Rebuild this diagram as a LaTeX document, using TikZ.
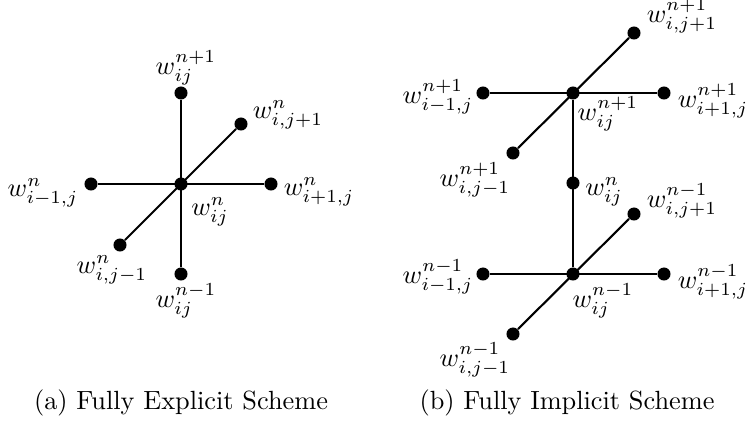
\documentclass[tikz,border=0pt]{standalone}
\begin{document}
\begin{tikzpicture}[x=0.38pt,y=-0.38pt,
  dot/.style={circle,fill=black,inner sep=0pt,minimum size=4.95pt},
  edge/.style={line width=0.8pt},
  lab/.style={inner sep=0pt}]
\useasboundingbox (0,0) rectangle (750,426);
% (a)
\node[dot] (c) at (181,184) {};
\node[dot] (t) at (181,93) {};
\node[dot] (b) at (181,274) {};
\node[dot] (l) at (91,184) {};
\node[dot] (r) at (271,184) {};
\node[dot] (ur) at (241,124) {};
\node[dot] (ll) at (120,245) {};
\draw[edge] (t) -- (b);
\draw[edge] (l) -- (r);
\draw[edge] (ll) -- (ur);
\node[lab] (lt) at (186,68) {$w_{ij}^{n+1}$};
\node[lab] (lur) at (288,115) {$w_{i,j+1}^{n}$};
\node[lab] (lr) at (319,192) {$w_{i+1,j}^{n}$};
\node[lab] (ll2) at (43,193) {$w_{i-1,j}^{n}$};
\node[lab] (lc) at (210,212) {$w_{ij}^{n}$};
\node[lab] (lll) at (112,270) {$w_{i,j-1}^{n}$};
\node[lab] (lb) at (186,301) {$w_{ij}^{n-1}$};
% (b)
\node[dot] (c1) at (573,93) {};
\node[dot] (l1) at (483,93) {};
\node[dot] (r1) at (664,93) {};
\node[dot] (ur1) at (634,33) {};
\node[dot] (ll1) at (513,153) {};
\node[dot] (m) at (573,183) {};
\node[dot] (c0) at (573,274) {};
\node[dot] (l0) at (483,274) {};
\node[dot] (r0) at (664,274) {};
\node[dot] (ur0) at (634,214) {};
\node[dot] (ll0) at (513,334) {};
\draw[edge] (l1) -- (r1);
\draw[edge] (ll1) -- (ur1);
\draw[edge] (c1) -- (c0);
\draw[edge] (l0) -- (r0);
\draw[edge] (ll0) -- (ur0);
\node[lab] (mur1) at (682,16) {$w_{i,j+1}^{n+1}$};
\node[lab] (ml1) at (438,97) {$w_{i-1,j}^{n+1}$};
\node[lab] (mr1) at (713,101) {$w_{i+1,j}^{n+1}$};
\node[lab] (mc1) at (608,114) {$w_{ij}^{n+1}$};
\node[lab] (mll1) at (475,180) {$w_{i,j-1}^{n+1}$};
\node[lab] (mm) at (604,192) {$w_{ij}^{n}$};
\node[lab] (mur0) at (682,201) {$w_{i,j+1}^{n-1}$};
\node[lab] (ml0) at (438,277) {$w_{i-1,j}^{n-1}$};
\node[lab] (mr0) at (713,282) {$w_{i+1,j}^{n-1}$};
\node[lab] (mc0) at (603,301) {$w_{ij}^{n-1}$};
\node[lab] (mll0) at (475,360) {$w_{i,j-1}^{n-1}$};
% captions
\node[lab] (capa) at (181,403) {(a) Fully Explicit Scheme};
\node[lab] (capb) at (567,403) {(b) Fully Implicit Scheme};
\end{tikzpicture}
\end{document}
